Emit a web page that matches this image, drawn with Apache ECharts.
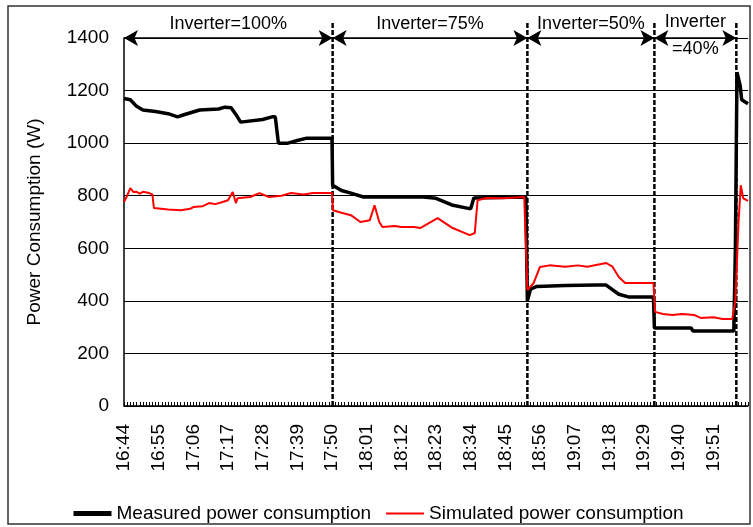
<!DOCTYPE html>
<html>
<head>
<meta charset="utf-8">
<script src="https://cdn.jsdelivr.net/npm/echarts@6/dist/echarts.min.js"></script>
<style>
  html, body { margin: 0; padding: 0; background: #fff; }
  #chart { width: 753px; height: 527px; }
</style>
</head>
<body>
<div id="chart"></div>
<script>
// minutes after 16:44
const startMinute = 16 * 60 + 44;

const measuredT = [0, 2, 4, 6, 10, 14, 17, 19, 24, 30, 32, 34, 36, 37, 44, 47, 48, 49, 52, 55, 58, 66,
  66.2, 69, 72, 76, 95, 99, 104, 110, 110.5, 111, 127.5,
  128, 129, 131, 140, 150, 153, 157, 160, 168,
  168.3, 180, 180.5, 193.5, 194, 194.5, 195.5, 196, 198];
const measuredW = [1170, 1165, 1140, 1126, 1120, 1112, 1100, 1108, 1126, 1130, 1137, 1135, 1100, 1080, 1090, 1100, 1100, 1000, 1000, 1010, 1019, 1019,
  840, 820, 810, 795, 795, 790, 765, 750, 750, 791, 795,
  400, 445, 455, 458, 460, 460, 425, 415, 415,
  297, 297, 285, 285, 600, 1270, 1220, 1165, 1150];

const simT = [0, 1, 2, 3, 4, 5, 6, 8, 9, 9.5, 14, 18, 21, 22, 25, 27, 29, 31, 33, 34.5, 35.5, 36, 40, 43, 46, 50, 53, 57, 60, 66,
  66.3, 69, 72, 75, 78, 79.5, 81, 82, 86, 88, 92, 94, 99.5, 104.3, 109.7, 111.3, 112.2, 115, 120, 127,
  128, 130, 132, 135, 140, 144, 147, 153, 155, 157, 159, 168,
  168.5, 171, 174, 177, 181, 183, 187, 190, 193, 194, 195, 195.7, 196.5, 198];
const simW = [776, 800, 829, 814, 815, 808, 815, 810, 805, 753, 748, 745, 750, 757, 760, 772, 768, 775, 783, 814, 772, 790, 795, 810, 795, 800, 810, 805, 810, 810,
  745, 735, 726, 700, 707, 764, 700, 681, 685, 681, 681, 677, 715, 677, 650, 658, 783, 791, 790, 795,
  441, 468, 529, 535, 530, 535, 530, 544, 530, 491, 468, 468,
  358, 350, 346, 350, 346, 335, 338, 331, 331, 400, 700, 840, 790, 780];

const phaseBounds = [0, 66.2, 128, 168.3, 194.3];
const phaseLabels = ['Inverter=100%', 'Inverter=75%', 'Inverter=50%', 'Inverter\n=40%'];

const yTicks = { min: 0, max: 1400, step: 200 };
const xTicks = { min: 0, max: 198, step: 11 };

function toClock(m) {
  const t = startMinute + m;
  const h = Math.floor(t / 60);
  const mm = t % 60;
  return h + ':' + (mm < 10 ? '0' + mm : mm);
}

const fontFamily = '"Liberation Sans", Arial, sans-serif';

const arrowData = phaseLabels.map(function (lab, i) {
  const twoLines = lab.indexOf('\n') >= 0;
  return [
    {
      coord: [phaseBounds[i], yTicks.max],
      label: twoLines
        ? { formatter: lab, verticalAlign: 'middle', lineHeight: 27, distance: 2 }
        : { formatter: lab }
    },
    { coord: [phaseBounds[i + 1], yTicks.max] }
  ];
});

const chart = echarts.init(document.getElementById('chart'));
chart.setOption({
  animation: false,
  backgroundColor: '#fff',
  textStyle: { fontFamily: fontFamily },
  graphic: [{
    type: 'rect',
    shape: { x: 8, y: 6, width: 742, height: 518 },
    style: { fill: 'none', stroke: '#333', lineWidth: 1.5 },
    silent: true
  }],
  grid: { left: 124, right: 5, top: 38, bottom: 121 },
  legend: {
    data: [
      { name: 'Measured power consumption', lineStyle: { width: 5 } },
      { name: 'Simulated power consumption', lineStyle: { width: 2 } }
    ],
    left: 66,
    top: 499,
    itemWidth: 38,
    itemHeight: 14,
    itemGap: 14,
    itemStyle: { opacity: 0 },
    textStyle: { fontSize: 19, color: '#000', fontFamily: fontFamily }
  },
  xAxis: {
    type: 'value',
    min: xTicks.min,
    max: xTicks.max,
    interval: xTicks.step,
    axisLine: { lineStyle: { color: '#000', width: 1.5 } },
    axisTick: { show: true, inside: true, length: 4, lineStyle: { color: '#000' } },
    minorTick: { show: true, splitNumber: 11, length: 4, lineStyle: { color: '#000' } },
    splitLine: { show: false },
    axisLabel: {
      rotate: 90,
      margin: 18,
      fontSize: 19,
      color: '#000',
      showMaxLabel: false,
      formatter: function (v) { return toClock(v); }
    }
  },
  yAxis: {
    type: 'value',
    min: yTicks.min,
    max: yTicks.max,
    interval: yTicks.step,
    name: 'Power Consumption (W)',
    nameLocation: 'middle',
    nameGap: 80,
    nameTextStyle: { fontSize: 19, color: '#000' },
    axisLine: { show: true, lineStyle: { color: '#000', width: 1.5 } },
    axisTick: { show: false },
    splitLine: { lineStyle: { color: '#000', width: 1 } },
    axisLabel: {
      fontSize: 19,
      color: '#000',
      margin: 15,
      formatter: function (v) { return String(v); }
    }
  },
  series: [
    {
      name: 'Measured power consumption',
      type: 'line',
      clip: false,
      symbol: 'none',
      data: measuredT.map(function (t, i) { return [t, measuredW[i]]; }),
      lineStyle: { color: '#000', width: 3.5 },
      itemStyle: { color: '#000' },
      markLine: {
        silent: true,
        symbol: ['arrow', 'arrow'],
        symbolSize: [12, 14],
        lineStyle: { color: '#000', width: 1.5, type: 'solid' },
        label: {
          position: 'middle',
          fontSize: 18,
          color: '#000',
          distance: 5,
          fontFamily: fontFamily
        },
        data: arrowData
      }
    },
    {
      name: 'Simulated power consumption',
      type: 'line',
      symbol: 'none',
      data: simT.map(function (t, i) { return [t, simW[i]]; }),
      lineStyle: { color: '#ff0000', width: 2 },
      itemStyle: { color: '#ff0000' }
    },
    {
      name: 'phase boundaries',
      type: 'custom',
      clip: false,
      silent: true,
      data: phaseBounds.slice(1).map(function (t) { return [t, 0]; }),
      renderItem: function (params, api) {
        const top = api.coord([api.value(0), yTicks.max]);
        const bottom = api.coord([api.value(0), yTicks.min]);
        return {
          type: 'line',
          shape: { x1: top[0], y1: top[1] - 15, x2: bottom[0], y2: bottom[1] },
          style: { stroke: '#000', lineWidth: 2.5, lineDash: [5, 2] }
        };
      }
    }
  ]
});
</script>
</body>
</html>
